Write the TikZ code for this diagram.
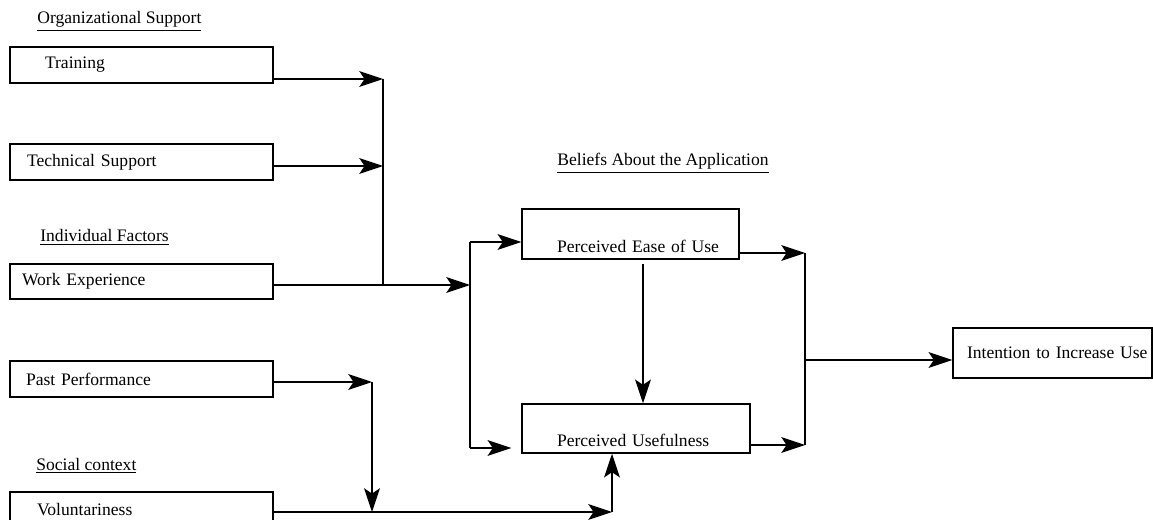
\documentclass[tikz,border=0pt]{standalone}
\usepackage{fontspec}
\setmainfont{Liberation Serif}
\usetikzlibrary{arrows.meta,positioning}

\begin{document}
\begin{tikzpicture}[x=0.02cm, y=-0.02cm,
    factor/.style={rectangle, draw=black, line width=0.85pt, inner xsep=0pt,
        text width=#1, align=left, minimum height=0.72cm, font=\fontsize{10}{12}\selectfont},
    belief/.style={factor=#1, minimum height=1cm, text height=21pt, text depth=0pt, inner ysep=1pt},
    group/.style={anchor=base west, inner sep=0pt, font=\fontsize{10}{12}\selectfont},
    arr/.style={-{Stealth[length=13.5pt, width=9pt, inset=3pt]}, line width=0.85pt},
    link/.style={line width=0.85pt}
]
\useasboundingbox (0,0) rectangle (1153,520);

% antecedents
\node[group] (orgLbl) at (37,24) {\underline{Organizational Support}};
\node[factor=5.26cm] (train) at (141.5,65) {\hspace*{0.7cm}Training};
\node[factor=5.26cm] (tech) at (141.5,162) {\hspace*{0.34cm}Technical Support};
\node[group] (indLbl) at (40,242) {\underline{Individual Factors}};
\node[factor=5.26cm, minimum height=0.7cm] (work) at (141.5,281.5) {\hspace*{0.24cm}Work Experience};
\node[factor=5.26cm] (past) at (141.5,379) {\hspace*{0.32cm}Past Performance};
\node[group] (socLbl) at (36,470) {\underline{Social context}};
\node[factor=5.26cm] (volun) at (141.5,510) {\hspace*{0.54cm}Voluntariness};

% beliefs and outcome
\node[group] (belLbl) at (557,166) {\underline{Beliefs About the Application}};
\node[belief=4.34cm] (peou) at (630.5,234) {\hspace*{0.7cm}Perceived Ease of Use};
\node[belief=4.56cm, minimum height=0.98cm] (pu) at (636,428.5) {\hspace*{0.7cm}Perceived Usefulness};
\node[factor=3.98cm, minimum height=1cm] (intent) at (1052.5,353) {\hspace*{0.28cm}Intention to Increase Use};

% junction points
\coordinate (orgBus) at (383,79);
\coordinate (orgMid) at (383,166);
\coordinate (orgEnd) at (383,285);
\coordinate (fork) at (470,285);
\coordinate (forkTop) at (470,242);
\coordinate (forkBot) at (470,448);
\coordinate (pastTurn) at (372,382);
\coordinate (volMeet) at (372,512);
\coordinate (volTurn) at (612,512);
\coordinate (outTop) at (805,253);
\coordinate (outBot) at (805,445);
\coordinate (outMid) at (805,360);

\draw[arr] (train.east |- orgBus) -- (orgBus);
\draw[arr] (tech.east |- orgMid) -- (orgMid);
\draw[link] (orgBus) -- (orgEnd);
\draw[arr] (work.east |- fork) -- (fork);
\draw[link] (forkTop) -- (forkBot);
\draw[arr] (forkTop) -- (peou.west |- forkTop);
\draw[arr] (forkBot) -- ([xshift=-0.2cm]pu.west |- forkBot);
\draw[arr] ([xshift=0.25cm, yshift=-0.08cm]peou.south) -- ([xshift=0.25cm]peou.south |- pu.north);

\draw[arr] (peou.east |- outTop) -- (outTop);
\draw[arr] (pu.east |- outBot) -- (outBot);
\draw[link] (outTop) -- (outBot);
\draw[arr] (outMid) -- (intent.west |- outMid);

\draw[arr] (past.east |- pastTurn) -- (pastTurn);
\draw[arr] (pastTurn) -- (volMeet);
\draw[arr] (volun.east |- volTurn) -- (volTurn);
\draw[arr] (volTurn) -- (volTurn |- pu.south);
\end{tikzpicture}
\end{document}
